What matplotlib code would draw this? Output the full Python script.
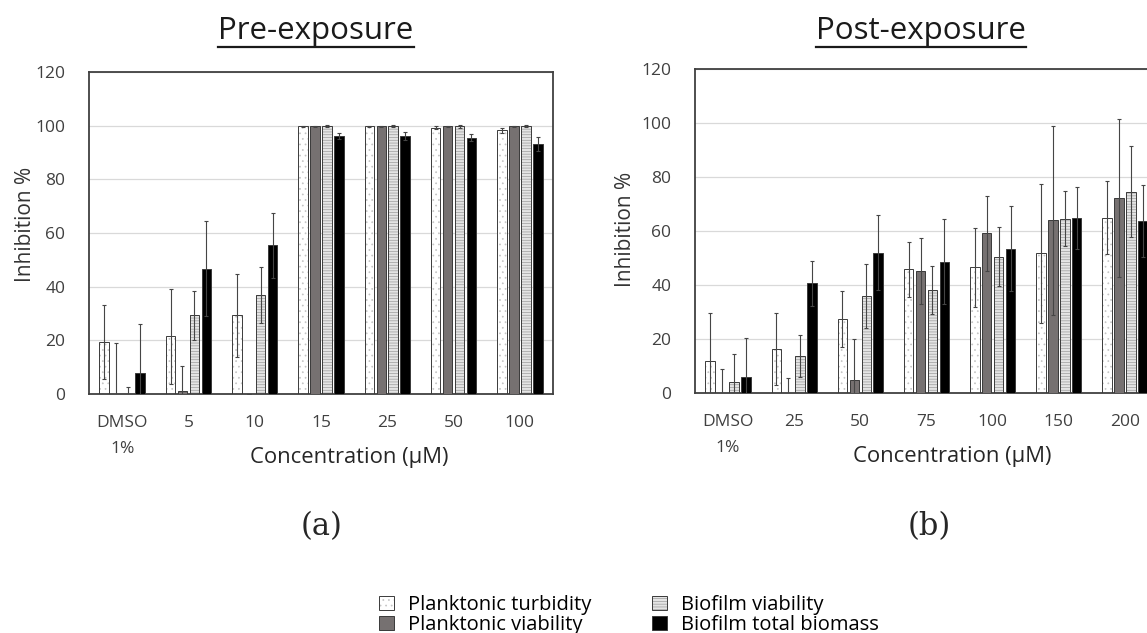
import numpy as np
import matplotlib
matplotlib.use('Agg')
import matplotlib.pyplot as plt
from matplotlib.patches import Patch
from matplotlib.lines import Line2D

plt.rcParams['font.family'] = ['Open Sans', 'DejaVu Sans']
plt.rcParams['hatch.linewidth'] = 0.5

# Dados
series = ['Planktonic turbidity', 'Planktonic viability', 'Biofilm viability', 'Biofilm total biomass']

pre_labels = ['DMSO\n1%', '5', '10', '15', '25', '50', '100']
pre_pt = [19.3, 21.6, 29.3, 99.8, 99.7, 99.3, 98.2]
pre_pv = [0, 1.0, 0, 99.8, 99.7, 99.8, 99.8]
pre_bv = [0, 29.4, 37.0, 99.9, 99.9, 99.8, 99.8]
pre_bt = [8.0, 46.7, 55.4, 96.2, 96.0, 95.5, 93.3]
pre_pt_err = [13.7, 17.7, 15.5, 0.2, 0.3, 0.4, 1.0]
pre_pv_err = [19.0, 9.5, 0, 0.2, 0.2, 0.2, 0.2]
pre_bv_err = [2.5, 9.1, 10.4, 0.4, 0.5, 0.5, 0.4]
pre_bt_err = [18.0, 17.7, 12.0, 1.0, 1.5, 1.3, 2.6]

post_labels = ['DMSO\n1%', '25', '50', '75', '100', '150', '200']
post_pt = [12.0, 16.3, 27.4, 45.8, 46.5, 51.7, 65.0]
post_pv = [0, 0, 5.0, 45.3, 59.1, 64.0, 72.3]
post_bv = [4.0, 13.7, 36.0, 38.1, 50.5, 64.6, 74.6]
post_bt = [6.0, 40.7, 52.0, 48.6, 53.5, 64.8, 63.6]
post_pt_err = [17.5, 13.3, 10.2, 10.2, 14.7, 25.6, 13.5]
post_pv_err = [9.0, 5.5, 15.0, 12.2, 13.9, 35.0, 29.2]
post_bv_err = [10.5, 7.8, 11.8, 8.9, 10.8, 10.2, 16.9]
post_bt_err = [14.5, 8.3, 14.0, 15.7, 15.8, 11.6, 13.4]

# estilos das barras: (cor de fundo, hachura, cor da hachura)
estilos = [('white', '...', '#c4c4c4'),
           ('#767171', None, None),
           ('#e4e4e4', '------', '#9c9c9c'),
           ('black', None, None)]
borda = '#3a3a3a'

fig = plt.figure(figsize=(11.47, 6.33), dpi=100)
W, H = 1147, 633
ax1 = fig.add_axes([89 / W, 1 - 394 / H, 464 / W, 322 / H])
ax2 = fig.add_axes([695 / W, 1 - 393 / H, 463 / W, 324 / H])


def desenha(ax, labels, valores, erros, xlab_x, ylab_x, ylab_y):
    x = np.arange(len(labels))
    passo, largura = 0.18, 0.145
    for k, (vals, errs) in enumerate(zip(valores, erros)):
        pos = x + (k - 1.5) * passo
        face, hatch, hcor = estilos[k]
        if hatch:
            ax.bar(pos, vals, largura, color=face, hatch=hatch, edgecolor=hcor,
                   linewidth=0, zorder=2)
            ax.bar(pos, vals, largura, fill=False, edgecolor=borda, linewidth=0.7, zorder=3)
        else:
            ax.bar(pos, vals, largura, color=face, edgecolor=borda, linewidth=0.7, zorder=3)
        ax.errorbar(pos, vals, yerr=errs, fmt='none', ecolor='#454545',
                    elinewidth=0.8, capsize=1.5, capthick=0.8, zorder=4)
    ax.set_xlim(-0.5, len(labels) - 0.5)
    ax.set_ylim(0, 120)
    ax.set_yticks(range(0, 121, 20))
    ax.set_xticks(x)
    ax.set_xticklabels(labels, linespacing=1.85)
    ax.tick_params(length=0, labelsize=12.5, labelcolor='#404040')
    ax.tick_params(axis='y', pad=17)
    ax.tick_params(axis='x', pad=15)
    ax.yaxis.grid(True, color='#d9d9d9', linewidth=0.9, zorder=0)
    ax.set_axisbelow(True)
    for s in ax.spines.values():
        s.set_color('#404040')
        s.set_linewidth(1.3)
    ax.set_ylabel('Inhibition %', fontsize=15, color='#333333')
    ax.set_xlabel('Concentration (µM)', fontsize=15.8, color='#262626')
    ax.xaxis.set_label_coords(xlab_x, -0.165)
    ax.yaxis.set_label_coords(ylab_x, ylab_y)


desenha(ax1, pre_labels, [pre_pt, pre_pv, pre_bv, pre_bt],
        [pre_pt_err, pre_pv_err, pre_bv_err, pre_bt_err], 0.56, -0.114, 0.528)
desenha(ax2, post_labels, [post_pt, post_pv, post_bv, post_bt],
        [post_pt_err, post_pv_err, post_bv_err, post_bt_err], 0.555, -0.127, 0.506)

# títulos sublinhados
t1 = fig.text(316 / W, 1 - 39 / H, 'Pre-exposure', ha='center', va='baseline',
              fontsize=22.5, color='#1a1a1a')
t2 = fig.text(921 / W, 1 - 39 / H, 'Post-exposure', ha='center', va='baseline',
              fontsize=22.5, color='#1a1a1a')

# (a) e (b)
fig.text(322 / W, 1 - 527 / H, '(a)', ha='center', va='center', fontsize=22,
         family='DejaVu Serif', color='#262626')
fig.text(929 / W, 1 - 527 / H, '(b)', ha='center', va='center', fontsize=22,
         family='DejaVu Serif', color='#262626')

# legenda
handles = []
for face, hatch, hcor in estilos:
    if hatch:
        handles.append((Patch(facecolor=face, hatch=hatch, edgecolor=hcor, linewidth=0),
                        Patch(fill=False, edgecolor=borda, linewidth=0.7)))
    else:
        handles.append(Patch(facecolor=face, edgecolor=borda, linewidth=0.7))
fig.legend(handles, series, ncol=2, loc='upper left',
           bbox_to_anchor=(379 / W, 1 - 595 / H), frameon=False, fontsize=14.5,
           handlelength=0.75, handleheight=0.75, handletextpad=0.7,
           columnspacing=3.0, labelspacing=0.0, borderpad=0, borderaxespad=0)

fig.canvas.draw()
for t in (t1, t2):
    bb = t.get_window_extent()
    fig.add_artist(Line2D([bb.x0, bb.x1], [bb.y0 - 1, bb.y0 - 1], transform=None,
                          color='#1a1a1a', linewidth=1.6))

fig.savefig('out.png', dpi=100)
